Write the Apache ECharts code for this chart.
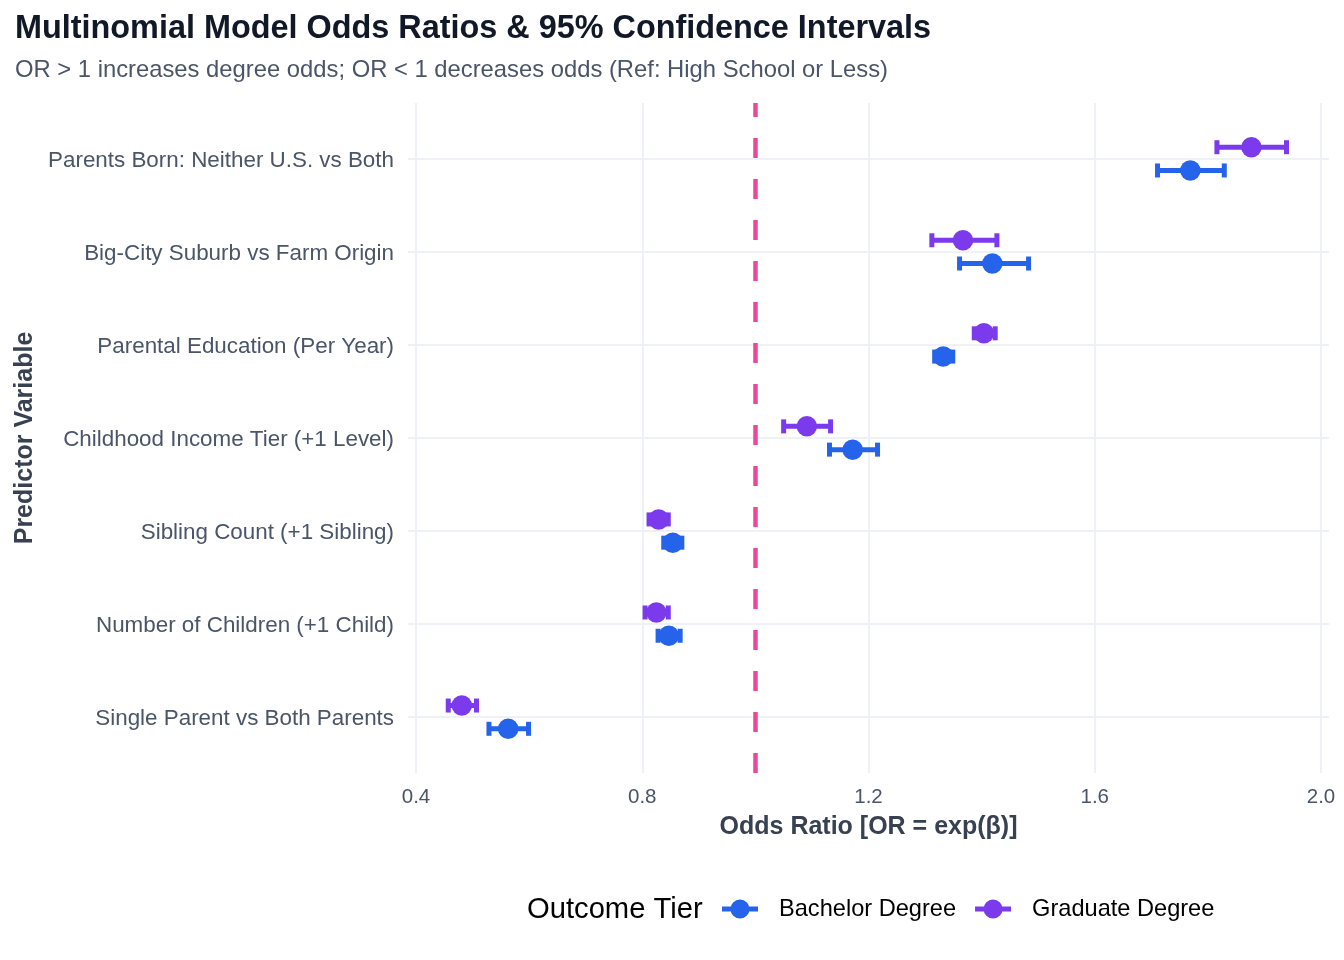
<!DOCTYPE html>
<html lang="en">
<head>
  <meta charset="UTF-8">
  <title>Multinomial Model Odds Ratios</title>
  <style>
    html, body { margin: 0; padding: 0; background: #fff; }
    #chart { width: 1344px; height: 960px; }
  </style>
  <script src="https://cdn.jsdelivr.net/npm/echarts@6/dist/echarts.min.js"></script>
</head>
<body>
  <div id="chart"></div>
  <script>
    // listed top to bottom, as they appear in the chart
    const predictors = [
      'Parents Born: Neither U.S. vs Both',
      'Big-City Suburb vs Farm Origin',
      'Parental Education (Per Year)',
      'Childhood Income Tier (+1 Level)',
      'Sibling Count (+1 Sibling)',
      'Number of Children (+1 Child)',
      'Single Parent vs Both Parents'
    ];
    const bachelorOR   = [1.769, 1.419, 1.332, 1.172, 0.854, 0.847, 0.563];
    const bachelorLow  = [1.711, 1.361, 1.317, 1.131, 0.838, 0.828, 0.529];
    const bachelorHigh = [1.829, 1.483, 1.349, 1.216, 0.870, 0.867, 0.599];
    const graduateOR   = [1.877, 1.367, 1.404, 1.091, 0.829, 0.825, 0.481];
    const graduateLow  = [1.816, 1.312, 1.387, 1.050, 0.812, 0.805, 0.457];
    const graduateHigh = [1.939, 1.427, 1.424, 1.133, 0.846, 0.846, 0.507];
    const xTicks = [0.4, 0.8, 1.2, 1.6, 2.0];
    const refLine = 1.0;

    const n = predictors.length;
    const dodge = 0.125;
    const labelColor = '#4a5568';
    const font = '"Liberation Sans", Arial, sans-serif';
    const BLUE = '#2563eb', PURPLE = '#7c3aed';

    // y position: top row = n, bottom row = 1; bachelor below, graduate above
    function rows(or, lo, hi, shift) {
      return or.map(function (v, i) { return [v, lo[i], hi[i], n - i + shift]; });
    }
    const bachRows = rows(bachelorOR, bachelorLow, bachelorHigh, -dodge);
    const gradRows = rows(graduateOR, graduateLow, graduateHigh, dodge);

    function errorBar(params, api) {
      const y = api.value(3);
      const a = api.coord([api.value(1), y]);
      const b = api.coord([api.value(2), y]);
      const color = api.visual('color');
      const w = 5, cap = 7;
      return {
        type: 'group',
        children: [
          { type: 'line', shape: { x1: a[0], y1: a[1], x2: b[0], y2: b[1] }, style: { stroke: color, lineWidth: w } },
          { type: 'line', shape: { x1: a[0], y1: a[1] - cap, x2: a[0], y2: a[1] + cap }, style: { stroke: color, lineWidth: w } },
          { type: 'line', shape: { x1: b[0], y1: b[1] - cap, x2: b[0], y2: b[1] + cap }, style: { stroke: color, lineWidth: w } }
        ]
      };
    }

    const legendIcon = 'path://M0,7 L36,7 L36,12 L0,12 Z M18,0 A9.5,9.5 0 1 1 17.99,0 Z';

    const chart = echarts.init(document.getElementById('chart'), null, { renderer: 'canvas' });
    chart.setOption({
      backgroundColor: '#fff',
      animation: false,
      textStyle: { fontFamily: font },
      title: [
        {
          text: 'Multinomial Model Odds Ratios & 95% Confidence Intervals',
          left: 15, top: 13.5, padding: 0,
          textStyle: { fontSize: 32.4, fontWeight: 'bold', color: '#111827', fontFamily: font, lineHeight: 32 }
        },
        {
          text: 'OR > 1 increases degree odds; OR < 1 decreases odds (Ref: High School or Less)',
          left: 15, top: 58.5, padding: 0,
          textStyle: { fontSize: 23.8, fontWeight: 'normal', color: labelColor, fontFamily: font, lineHeight: 24 }
        },
        {
          text: 'Outcome Tier',
          left: 527, top: 895, padding: 0,
          textStyle: { fontSize: 29.2, fontWeight: 'normal', color: '#000', fontFamily: font, lineHeight: 29 }
        }
      ],
      legend: {
        left: 722, top: 897, padding: 0,
        itemWidth: 36, itemHeight: 19, itemGap: 19,
        textStyle: { fontSize: 23.6, color: '#000', fontFamily: font, padding: [0, 0, 0, 16] },
        data: [
          { name: 'Bachelor Degree', icon: legendIcon },
          { name: 'Graduate Degree', icon: legendIcon }
        ],
        selectedMode: false
      },
      grid: { left: 408, right: 15, top: 103, bottom: 187, containLabel: false },
      xAxis: {
        type: 'value',
        min: 0.4 - 8 / 565.625,
        max: 2.0 + 8 / 565.625,
        name: 'Odds Ratio [OR = exp(\u03b2)]',
        nameLocation: 'middle',
        nameGap: 41.5,
        nameTextStyle: { fontSize: 25, fontWeight: 'bold', color: '#374151', fontFamily: font },
        axisLine: { show: false },
        axisTick: { show: false, customValues: xTicks },
        axisLabel: {
          customValues: xTicks, margin: 13.5, fontSize: 20.5, color: labelColor, fontFamily: font,
          formatter: function (v) { return v.toFixed(1); }
        },
        splitLine: { show: true, lineStyle: { color: '#eef1f6', width: 2 } }
      },
      yAxis: {
        type: 'value',
        min: 0.4,
        max: n + 0.6,
        name: 'Predictor Variable',
        nameLocation: 'middle',
        nameGap: 368,
        nameTextStyle: { fontSize: 25, fontWeight: 'bold', color: '#374151', fontFamily: font },
        axisLine: { show: false },
        axisTick: { show: false, customValues: predictors.map(function (p, i) { return i + 1; }) },
        axisLabel: {
          customValues: predictors.map(function (p, i) { return i + 1; }),
          margin: 14, fontSize: 22.4, color: labelColor, fontFamily: font,
          formatter: function (v) { return '{p|' + predictors[n - Math.round(v)] + '}'; },
          rich: {
            p: { fontSize: 22.4, color: labelColor, fontFamily: font, padding: [4, 0, 0, 0] }
          }
        },
        splitLine: { show: true, lineStyle: { color: '#eef1f6', width: 2 } }
      },
      series: [
        {
          name: 'Bachelor Degree', type: 'custom', renderItem: errorBar,
          itemStyle: { color: BLUE }, data: bachRows, z: 2, silent: true,
          encode: { x: [1, 2], y: 3 },
          markLine: {
            silent: true, symbol: 'none', label: { show: false },
            lineStyle: { color: '#ec4899', width: 4.5, type: [20, 21] },
            data: [[{ coord: [refLine, 0.4] }, { coord: [refLine, n + 0.6] }]]
          }
        },
        {
          name: 'Graduate Degree', type: 'custom', renderItem: errorBar,
          itemStyle: { color: PURPLE }, data: gradRows, z: 2, silent: true,
          encode: { x: [1, 2], y: 3 }
        },
        {
          name: 'Bachelor Degree', type: 'scatter', symbol: 'circle', symbolSize: 20.5,
          itemStyle: { color: BLUE, opacity: 1 }, z: 3,
          data: bachRows.map(function (r) { return [r[0], r[3]]; })
        },
        {
          name: 'Graduate Degree', type: 'scatter', symbol: 'circle', symbolSize: 20.5,
          itemStyle: { color: PURPLE, opacity: 1 }, z: 3,
          data: gradRows.map(function (r) { return [r[0], r[3]]; })
        }
      ]
    });
  </script>
</body>
</html>
